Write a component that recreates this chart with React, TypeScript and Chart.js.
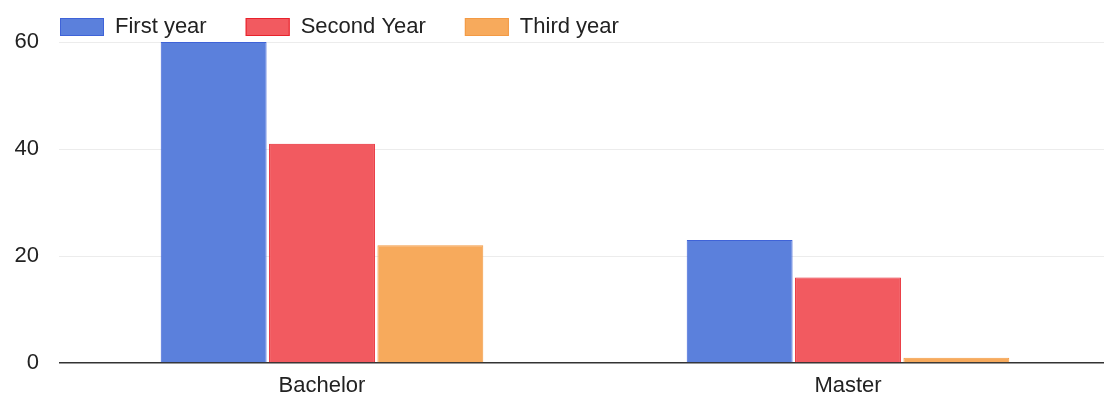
import React, { useEffect, useRef } from "react";
import { Chart, registerables } from "chart.js";

Chart.register(...registerables);

const categories = ["Bachelor", "Master"];
const seriesLabels = ["First year", "Second Year", "Third year"];
const firstYear = [60, 23];
const secondYear = [41, 16];
const thirdYear = [22, 1];
const yTicks = [0, 20, 40, 60];

const fills = ["#5b80dc", "#f25a60", "#f7aa5c"];
const borders = ["#3f63d8", "#e8222c", "#f39a44"];
const FONT = "'Liberation Sans', Arial, sans-serif";

const legendPlugin = {
  id: "customLegend",
  afterDraw(chart: any) {
    const ctx = chart.ctx;
    ctx.save();
    ctx.font = `22px ${FONT}`;
    ctx.textBaseline = "middle";
    let x = 60;
    const yMid = 27;
    chart.data.datasets.forEach((ds: any) => {
      ctx.fillStyle = ds.backgroundColor;
      ctx.strokeStyle = ds.borderColor;
      ctx.lineWidth = 1;
      ctx.fillRect(x, 18, 44, 18);
      ctx.strokeRect(x + 0.5, 18.5, 43, 17);
      ctx.fillStyle = "#222";
      ctx.fillText(ds.label, x + 55, yMid);
      const w = ctx.measureText(ds.label).width;
      x += 55 + w + 39;
    });
    ctx.restore();
  },
};

export default function App() {
  const ref = useRef<HTMLCanvasElement>(null);
  useEffect(() => {
    if (!ref.current) return;
    const data = [firstYear, secondYear, thirdYear];
    const chart = new Chart(ref.current, {
      type: "bar",
      data: {
        labels: categories,
        datasets: data.map((d, i) => ({
          label: seriesLabels[i],
          data: d,
          backgroundColor: fills[i],
          borderColor: borders[i],
          borderWidth: 1,
          categoryPercentage: 0.618,
          barPercentage: 0.977,
        })),
      },
      options: {
        animation: false,
        responsive: true,
        maintainAspectRatio: false,
        layout: { padding: { top: 42, right: 1, left: 0, bottom: 0 } },
        plugins: { legend: { display: false }, tooltip: { enabled: false } },
        scales: {
          x: {
            grid: { display: false, drawTicks: false },
            border: { display: false },
            ticks: { color: "#222", font: { family: FONT, size: 22 }, padding: 10 },
            afterFit: (s: any) => { s.height = 38; },
          },
          y: {
            min: 0,
            max: 60,
            afterBuildTicks: (s: any) => { s.ticks = yTicks.map((v) => ({ value: v })); },
            grid: {
              drawTicks: false,
              color: (c: any) => (c.tick && c.tick.value === 0 ? "#333" : "#ececec"),
              lineWidth: (c: any) => (c.tick && c.tick.value === 0 ? 1.5 : 1),
            },
            border: { display: false },
            ticks: { color: "#222", font: { family: FONT, size: 22 }, padding: 20 },
            afterFit: (s: any) => { s.width = 59; },
          },
        },
      },
      plugins: [legendPlugin],
    });
    return () => chart.destroy();
  }, []);
  return (
    <div style={{ position: "absolute", left: 0, top: 0, width: 1104, height: 401, overflow: "hidden", background: "#fff" }}>
      <div style={{ position: "relative", width: 1112, height: 401 }}>
        <canvas ref={ref} />
      </div>
    </div>
  );
}
